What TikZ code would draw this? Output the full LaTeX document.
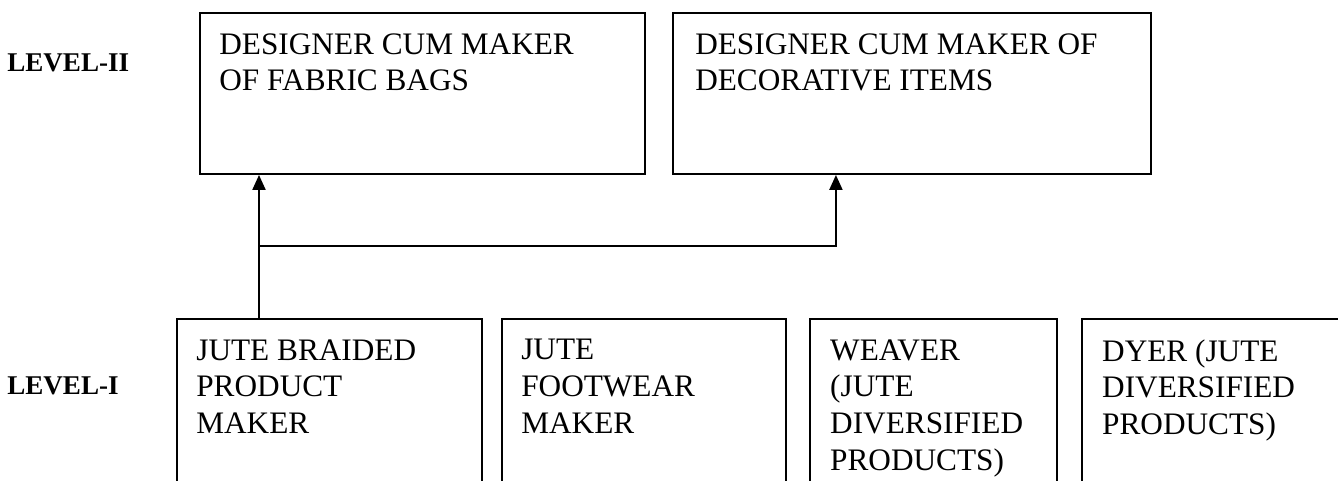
\documentclass[tikz,border=0pt]{standalone}
\usepackage{fontspec}
\setmainfont{Liberation Serif}
\usetikzlibrary{arrows.meta, positioning, calc}
\tikzset{
	lvlbox/.style ={rectangle, draw=black, line width=1.1pt, minimum height=3.22cm, inner sep=0pt},
	basebox/.style={rectangle, draw=black, line width=1.1pt, minimum height=3.44cm, inner sep=0pt},
	boxtext/.style={anchor=north west, align=left, inner sep=0pt, font=\fontsize{17.8}{21}\selectfont},
	lvltext/.style={anchor=west, inner sep=0pt, font=\fontsize{15.4}{18}\selectfont\bfseries},
	uparrow/.style={-{Triangle[length=3mm, width=2.6mm]}, line width=1.2pt},
}
\begin{document}
\begin{tikzpicture}
	\useasboundingbox (0,0) rectangle (26.76,-9.6);
	\node[lvlbox, minimum width=8.9cm, anchor=north west] (bag) at (3.98,-0.24) {};
	\node[lvlbox, minimum width=9.56cm, right=0.52cm of bag] (deco) {};
	\node[basebox, minimum width=6.1cm, anchor=north west] (braid) at (3.52,-6.36) {};
	\node[basebox, minimum width=5.68cm, right=0.36cm of braid] (foot) {};
	\node[basebox, minimum width=4.94cm, right=0.44cm of foot] (weave) {};
	\node[basebox, minimum width=5.14cm, right=0.46cm of weave] (dyer) {};
	\node[lvltext] (lvl2) at (0.14,-1.25) {LEVEL-II};
	\node[lvltext] (lvl1) at (0.14,-7.72) {LEVEL-I};
	\node[boxtext] (bagtxt) at ($(bag.north west)+(0.4,-0.42)$) {DESIGNER CUM MAKER\\OF FABRIC BAGS};
	\node[boxtext] (decotxt) at ($(deco.north west)+(0.46,-0.42)$) {DESIGNER CUM MAKER OF\\DECORATIVE ITEMS};
	\node[boxtext] (braidtxt) at ($(braid.north west)+(0.4,-0.42)$) {JUTE BRAIDED\\PRODUCT\\MAKER};
	\node[boxtext] (foottxt) at ($(foot.north west)+(0.4,-0.42)$) {JUTE\\FOOTWEAR\\MAKER};
	\node[boxtext] (weavetxt) at ($(weave.north west)+(0.42,-0.42)$) {WEAVER\\(JUTE\\DIVERSIFIED\\PRODUCTS)};
	\node[boxtext] (dyertxt) at ($(dyer.north west)+(0.42,-0.42)$) {DYER (JUTE\\DIVERSIFIED\\PRODUCTS)};
	\coordinate (fork) at ($(braid.north west)+(1.66,0)$);
	\coordinate (split) at ($(deco.south west)+(3.28,-1.42)$);
	\draw[uparrow] (fork) -- (fork |- bag.south);
	\draw[uparrow] (fork |- split) -- (split) -- (split |- deco.south);
\end{tikzpicture}
\end{document}
